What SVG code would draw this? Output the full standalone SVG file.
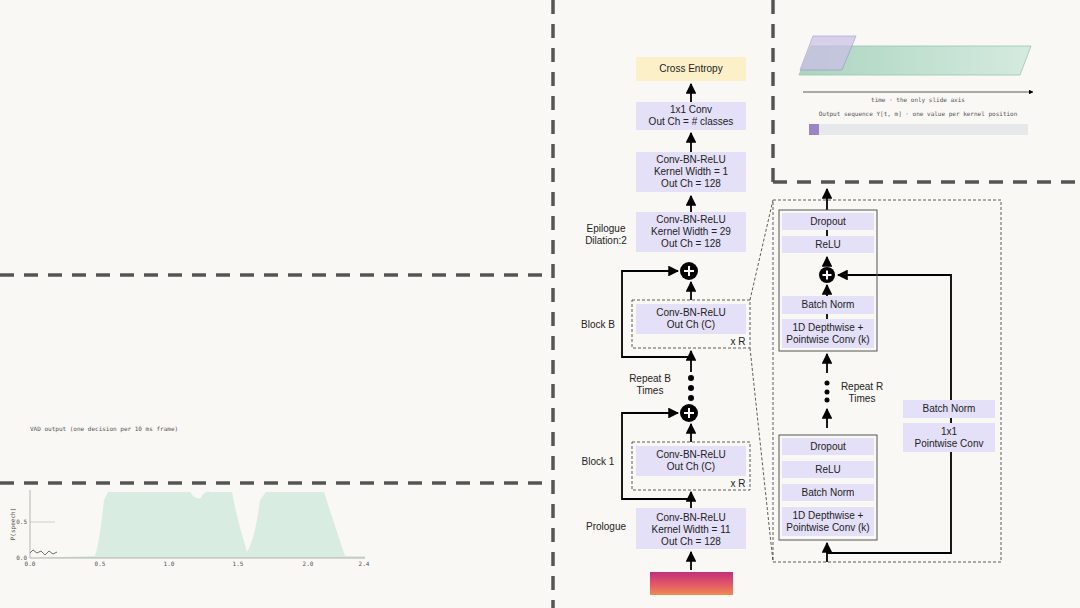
<svg xmlns="http://www.w3.org/2000/svg" width="1080" height="608" viewBox="0 0 1080 608">
<defs>
<marker id="ah" viewBox="0 0 10 10" refX="9" refY="5" markerWidth="6" markerHeight="6" orient="auto"><path d="M0,0 L10,5 L0,10 z" fill="#000"/></marker>
<linearGradient id="spec" x1="0" y1="0" x2="0" y2="1"><stop offset="0" stop-color="#c2307a"/><stop offset="0.5" stop-color="#e0556a"/><stop offset="1" stop-color="#f08a50"/></linearGradient>
<linearGradient id="grn" x1="0" y1="0" x2="1" y2="0"><stop offset="0" stop-color="#9fcfb8"/><stop offset="1" stop-color="#cfe9dc"/></linearGradient>
</defs>
<style>
.sep{stroke:#555;stroke-width:3.5;stroke-dasharray:14 10;fill:none}
.box{fill:#e4e0f8}
.t{font-family:"Liberation Sans",Arial,sans-serif;font-size:10px;fill:#222;text-anchor:middle}
.l{font-family:"Liberation Sans",Arial,sans-serif;font-size:10px;fill:#222;text-anchor:middle}
.m{font-family:"DejaVu Sans Mono","Liberation Mono",monospace;font-size:6px;fill:#555}
.c{stroke:#000;stroke-width:1.8;fill:none}
.a{stroke:#000;stroke-width:1.8;fill:none;marker-end:url(#ah)}
.dash{stroke:#333;stroke-width:0.8;stroke-dasharray:3 2;fill:none}
</style>
<rect width="1080" height="608" fill="#f9f8f4"/>
<g id="separators">
<line class="sep" x1="553" y1="0" x2="553" y2="608"/>
<line class="sep" x1="0" y1="275" x2="553" y2="275"/>
<line class="sep" x1="0" y1="483" x2="553" y2="483"/>
<line class="sep" x1="773" y1="0" x2="773" y2="182"/>
<line class="sep" x1="773" y1="182" x2="1080" y2="182"/>
</g>
<g id="kernel-anim">
<polygon points="799,75 1020,75 1031,46 811,46" fill="url(#grn)" stroke="#8bbfa5" stroke-width="0.8" opacity="0.85"/>
<polygon points="800,70 842,70 856,36 813,36" fill="#cbbfe6" stroke="#9b8cc8" stroke-width="0.8" opacity="0.7"/>
<line x1="803" y1="92" x2="1033" y2="92" stroke="#333" stroke-width="0.8" marker-end="url(#ah)"/>
<text class="m" x="918" y="102" text-anchor="middle">time · the only slide axis</text>
<text class="m" x="918" y="116" text-anchor="middle">Output sequence Y[t, m] · one value per kernel position</text>
<rect x="809" y="124" width="219" height="11" fill="#e6e8ea"/>
<rect x="809" y="124" width="10" height="11" fill="#9a86c4"/>
</g>
<g id="vad-plot">
<text class="m" x="30" y="431">VAD output (one decision per 10 ms frame)</text>
<path d="M30,558 L95,556 Q100,540 104,500 L108,492 L190,492 Q195,500 201,498 Q205,490 210,492 L232,492 Q237,520 247,552 Q255,540 260,500 L266,492 L324,492 Q333,520 345,556 L365,556 L365,558 Z" fill="#cfe8dc" opacity="0.8"/>
<polyline points="30,553 33,550 37,553 41,551 45,555 49,551 53,554 57,552" stroke="#333" stroke-width="0.7" fill="none"/>
<line x1="30" y1="490" x2="30" y2="558" stroke="#888" stroke-width="0.6"/>
<line x1="30" y1="558" x2="365" y2="558" stroke="#888" stroke-width="0.6"/>
<line x1="30" y1="522" x2="55" y2="522" stroke="#aaa" stroke-width="0.5"/>
<text class="m" x="27" y="524" text-anchor="end" font-size="5">0.5</text>
<text class="m" x="27" y="560" text-anchor="end" font-size="5">0.0</text>
<text class="m" x="15" y="524" font-size="5" text-anchor="middle" transform="rotate(-90 15 524)">P(speech)</text>
<g class="m" font-size="5" text-anchor="middle"><text x="30" y="566">0.0</text><text x="100" y="566">0.5</text><text x="169" y="566">1.0</text><text x="238" y="566">1.5</text><text x="308" y="566">2.0</text><text x="364" y="566">2.4</text></g>
</g>
<g id="connectors">
<line class="a" x1="691" y1="570" x2="691" y2="552"/>
<line class="a" x1="691" y1="508" x2="691" y2="492"/>
<line class="a" x1="691" y1="442" x2="691" y2="424"/>
<polyline class="a" points="691,499 622,499 622,413 678,413"/>
<line class="a" x1="691" y1="372" x2="691" y2="351"/>
<polyline class="a" points="691,357 622,357 622,271 678,271"/>
<line class="a" x1="691" y1="300" x2="691" y2="282"/>
<line class="a" x1="691" y1="212" x2="691" y2="196"/>
<line class="a" x1="691" y1="152" x2="691" y2="133"/>
<line class="a" x1="691" y1="102" x2="691" y2="84"/>
<line class="dash" x1="750" y1="300" x2="773" y2="200"/>
<line class="dash" x1="750" y1="348" x2="773" y2="562"/>
<line class="a" x1="827" y1="210" x2="827" y2="189"/>
<line class="c" x1="827" y1="230" x2="827" y2="236"/>
<line class="a" x1="827" y1="266" x2="827" y2="257"/>
<line class="a" x1="827" y1="296" x2="827" y2="285"/>
<line class="c" x1="827" y1="314" x2="827" y2="319"/>
<line class="a" x1="827" y1="373" x2="827" y2="354"/>
<line class="a" x1="827" y1="428" x2="827" y2="409"/>
<line class="a" x1="827" y1="562" x2="827" y2="543"/>
<polyline class="a" points="827,553 951,553 951,275 838,275"/>
</g>
<g id="prologue"><rect class="box" x="636" y="508" width="110" height="41"/><text class="t" x="691" y="521">Conv-BN-ReLU</text><text class="t" x="691" y="533">Kernel Width = 11</text><text class="t" x="691" y="545">Out Ch = 128</text><text class="l" x="606" y="530">Prologue</text></g>
<g id="spectrogram"><rect x="650" y="572" width="83" height="23" fill="url(#spec)"/></g>
<g id="block1"><rect class="dash" x="632" y="442" width="118" height="48"/><rect class="box" x="636" y="446" width="110" height="30"/><text class="t" x="691" y="458">Conv-BN-ReLU</text><text class="t" x="691" y="470">Out Ch (C)</text><text class="t" x="738" y="487">x R</text><text class="l" x="598" y="465">Block 1</text></g>
<g id="plus1"><circle cx="689" cy="413" r="9" fill="#000"/><path d="M684,413h10M689,408v10" stroke="#fff" stroke-width="2"/></g>
<g id="repeatB"><circle cx="691" cy="378" r="3" fill="#000"/><circle cx="691" cy="388" r="3" fill="#000"/><circle cx="691" cy="398" r="3" fill="#000"/><text class="l" x="650" y="382">Repeat B</text><text class="l" x="650" y="394">Times</text></g>
<g id="blockB"><rect class="dash" x="632" y="300" width="118" height="48"/><rect class="box" x="636" y="304" width="110" height="30"/><text class="t" x="691" y="316">Conv-BN-ReLU</text><text class="t" x="691" y="328">Out Ch (C)</text><text class="t" x="738" y="345">x R</text><text class="l" x="598" y="328">Block B</text></g>
<g id="plusB"><circle cx="689" cy="271" r="9" fill="#000"/><path d="M684,271h10M689,266v10" stroke="#fff" stroke-width="2"/></g>
<g id="epilogue"><rect class="box" x="636" y="212" width="110" height="40"/><text class="t" x="691" y="223">Conv-BN-ReLU</text><text class="t" x="691" y="235">Kernel Width = 29</text><text class="t" x="691" y="247">Out Ch = 128</text><text class="l" x="606" y="232">Epilogue</text><text class="l" x="606" y="244">Dilation:2</text></g>
<g id="conv-k1"><rect class="box" x="636" y="152" width="110" height="40"/><text class="t" x="691" y="163">Conv-BN-ReLU</text><text class="t" x="691" y="175">Kernel Width = 1</text><text class="t" x="691" y="187">Out Ch = 128</text></g>
<g id="conv1x1"><rect class="box" x="636" y="102" width="110" height="28"/><text class="t" x="691" y="113">1x1 Conv</text><text class="t" x="691" y="125">Out Ch = # classes</text></g>
<g id="cross-entropy"><rect x="636" y="57" width="110" height="24" fill="#fbf0c8"/><text class="t" x="691" y="72">Cross Entropy</text></g>
<g id="block-detail"><rect class="dash" x="773" y="200" width="228" height="362"/></g>
<g id="sub-last"><rect x="779" y="210" width="98" height="141" fill="none" stroke="#555" stroke-width="1"/>
<rect class="box" x="782" y="213" width="92" height="17"/><text class="t" x="828" y="225">Dropout</text>
<rect class="box" x="782" y="236" width="92" height="17"/><text class="t" x="828" y="248">ReLU</text>
<rect class="box" x="782" y="296" width="92" height="18"/><text class="t" x="828" y="308">Batch Norm</text>
<rect class="box" x="782" y="319" width="92" height="29"/><text class="t" x="828" y="331">1D Depthwise +</text><text class="t" x="828" y="343">Pointwise Conv (k)</text></g>
<g id="plus-sub"><circle cx="827" cy="275" r="8" fill="#000"/><path d="M822.5,275h9M827,270.5v9" stroke="#fff" stroke-width="2"/></g>
<g id="repeatR"><circle cx="827" cy="383" r="2.5" fill="#000"/><circle cx="827" cy="392" r="2.5" fill="#000"/><circle cx="827" cy="400" r="2.5" fill="#000"/><text class="l" x="862" y="390">Repeat R</text><text class="l" x="862" y="402">Times</text></g>
<g id="sub-first"><rect x="779" y="435" width="98" height="105" fill="none" stroke="#555" stroke-width="1"/>
<rect class="box" x="782" y="438" width="92" height="17"/><text class="t" x="828" y="450">Dropout</text>
<rect class="box" x="782" y="461" width="92" height="17"/><text class="t" x="828" y="473">ReLU</text>
<rect class="box" x="782" y="484" width="92" height="17"/><text class="t" x="828" y="496">Batch Norm</text>
<rect class="box" x="782" y="507" width="92" height="29"/><text class="t" x="828" y="519">1D Depthwise +</text><text class="t" x="828" y="531">Pointwise Conv (k)</text></g>
<g id="residual"><rect class="box" x="903" y="400" width="92" height="18"/><text class="t" x="949" y="412">Batch Norm</text>
<rect class="box" x="903" y="423" width="92" height="29"/><text class="t" x="949" y="435">1x1</text><text class="t" x="949" y="447">Pointwise Conv</text></g>
</svg>
